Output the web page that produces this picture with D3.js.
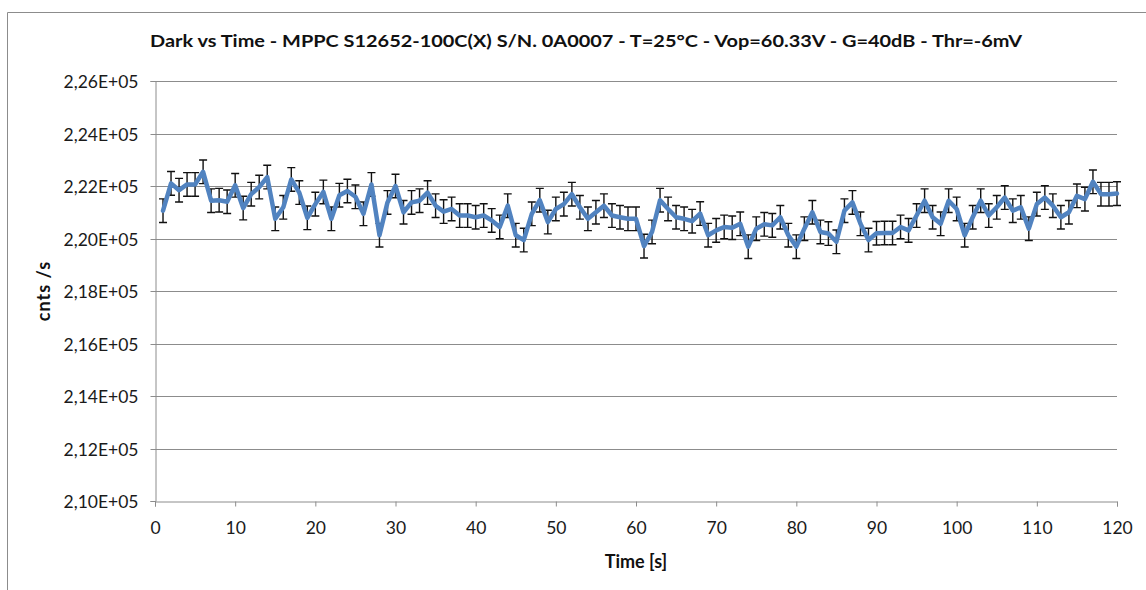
<!DOCTYPE html>
<html>
<head>
<meta charset="utf-8">
<script src="https://cdn.jsdelivr.net/npm/d3@7"></script>
<style>
  html, body { margin: 0; padding: 0; background: #fff; }
  svg { display: block; font-family: Lato, "Open Sans", sans-serif; }
</style>
</head>
<body>
<div id="chart"></div>
<script>
// Dark count vs time - MPPC S12652-100C(X)

const title = 'Dark vs Time - MPPC S12652-100C(X)  S/N. 0A0007  - T=25°C - Vop=60.33V - G=40dB - Thr=-6mV';

// tempo (s) 1..120
const times = [
  1,2,3,4,5,6,7,8,9,10,11,12,13,14,15,16,17,18,19,20,
  21,22,23,24,25,26,27,28,29,30,31,32,33,34,35,36,37,38,39,40,
  41,42,43,44,45,46,47,48,49,50,51,52,53,54,55,56,57,58,59,60,
  61,62,63,64,65,66,67,68,69,70,71,72,73,74,75,76,77,78,79,80,
  81,82,83,84,85,86,87,88,89,90,91,92,93,94,95,96,97,98,99,100,
  101,102,103,104,105,106,107,108,109,110,111,112,113,114,115,116,117,118,119,120
];

// conteggi al secondo
const counts = [
  221060,222100,221840,222060,222060,222540,221440,221460,221400,222025,
  221160,221690,221960,222340,220750,221190,222250,221750,220790,221310,
  221775,220750,221650,221810,221590,220940,222060,220125,221375,222000,
  221000,221375,221440,221750,221250,221025,221125,220875,220875,220810,
  220875,220690,220440,221250,220125,219940,220940,221460,220625,221125,
  221310,221690,221190,220750,221000,221250,220875,220810,220750,220750,
  219710,220250,221460,221125,220810,220750,220660,220950,220125,220310,
  220440,220410,220560,219690,220375,220540,220500,220810,220125,219690,
  220375,221000,220250,220190,219875,221060,221375,220560,219940,220200,
  220210,220210,220440,220310,220875,221440,220810,220560,221440,221125,
  220125,220810,221440,220875,221190,221560,221060,221190,220375,221310,
  221560,221250,220810,221000,221625,221500,222160,221690,221690,221710
];

// errore (±) sui conteggi
const errBar = 450;

const yTicks = [210000,212000,214000,216000,218000,220000,222000,224000,226000];
const xTicks = [0,10,20,30,40,50,60,70,80,90,100,110,120];

const data = times.map((t,i)=>({t, v: counts[i]}));

const width = 1146, height = 590;
const margin = {top:81, right:29, bottom:89, left:155};
const FONT = 'Lato, "Open Sans", sans-serif';

const svg = d3.select('#chart').append('svg')
  .attr('width', width)
  .attr('height', height);

// cornice esterna
svg.append('path')
  .attr('d', `M7.5,${height} L7.5,12.5 L${width},12.5`)
  .attr('fill','none')
  .attr('stroke','#8c8c8c')
  .attr('stroke-width',1);

const x = d3.scaleLinear().domain([0,120]).range([margin.left, width - margin.right]);
const y = d3.scaleLinear().domain([210000,226000]).range([height - margin.bottom, margin.top]);

const fmt = v => {
  const m = (v/1e5).toFixed(2).replace('.', ',');
  return m + 'E+05';
};

// griglia
svg.append('g')
  .selectAll('line')
  .data(yTicks.slice(1))
  .join('line')
  .attr('x1', x(0)).attr('x2', x(120))
  .attr('y1', d=>Math.round(y(d))+0.5).attr('y2', d=>Math.round(y(d))+0.5)
  .attr('stroke','#8c8c8c')
  .attr('stroke-width',1);

// asse Y
const yAxis = svg.append('g')
  .attr('transform', `translate(${Math.round(x(0))+0.5},0)`)
  .call(d3.axisLeft(y).tickValues(yTicks).tickFormat(fmt).tickSize(5).tickPadding(12));
yAxis.attr('font-family', FONT).attr('font-size', 17.5);
yAxis.selectAll('.domain').attr('stroke','#8c8c8c');
yAxis.selectAll('.tick line').attr('stroke','#8c8c8c');
yAxis.selectAll('.tick text')
  .attr('fill','#1a1a1a')
  .attr('dy','0.35em');
yAxis.selectAll('.tick').attr('transform', d=>`translate(0,${Math.round(y(d))+0.5})`);

// asse X
const xAxis = svg.append('g')
  .attr('transform', `translate(0,${Math.round(y(210000))+0.5})`)
  .call(d3.axisBottom(x).tickValues(xTicks).tickFormat(d3.format('d')).tickSize(5).tickPadding(15));
xAxis.attr('font-family', FONT).attr('font-size', 17.5);
xAxis.selectAll('.domain').attr('stroke','#8c8c8c');
xAxis.selectAll('.tick line').attr('stroke','#8c8c8c');
xAxis.selectAll('.tick text')
  .attr('fill','#1a1a1a');

// barre di errore
const eb = svg.append('g').attr('stroke','#111').attr('stroke-width',1.4).attr('fill','none');
eb.selectAll('path')
  .data(data)
  .join('path')
  .attr('d', d=>{
    const cx = x(d.t), y1 = y(d.v + errBar), y2 = y(d.v - errBar);
    return `M${cx},${y1}V${y2}M${cx-4},${y1}H${cx+4}M${cx-4},${y2}H${cx+4}`;
  });

// linea dati
const line = d3.line().x(d=>x(d.t)).y(d=>y(d.v));
svg.append('path')
  .datum(data)
  .attr('d', line)
  .attr('fill','none')
  .attr('stroke','#5183c0')
  .attr('stroke-width',4.5)
  .attr('stroke-linejoin','round')
  .attr('stroke-linecap','round');

// titolo
svg.append('text')
  .attr('x', 586)
  .attr('y', 47)
  .attr('text-anchor','middle')
  .attr('fill','#111')
  .style('font-size','17px')
  .style('font-weight','bold')
  .attr('textLength', 872)
  .attr('lengthAdjust','spacingAndGlyphs')
  .text(title);

// etichette assi
svg.append('text')
  .attr('x', 636)
  .attr('y', 568)
  .attr('text-anchor','middle')
  .attr('fill','#111')
  .style('font-size','18px')
  .style('font-weight','bold')
  .text('Time [s]');

svg.append('text')
  .attr('transform','translate(50,291) rotate(-90)')
  .attr('text-anchor','middle')
  .attr('fill','#111')
  .style('font-size','18px')
  .style('font-weight','bold')
  .style('letter-spacing','1px')
  .text('cnts /s');
</script>
</body>
</html>
